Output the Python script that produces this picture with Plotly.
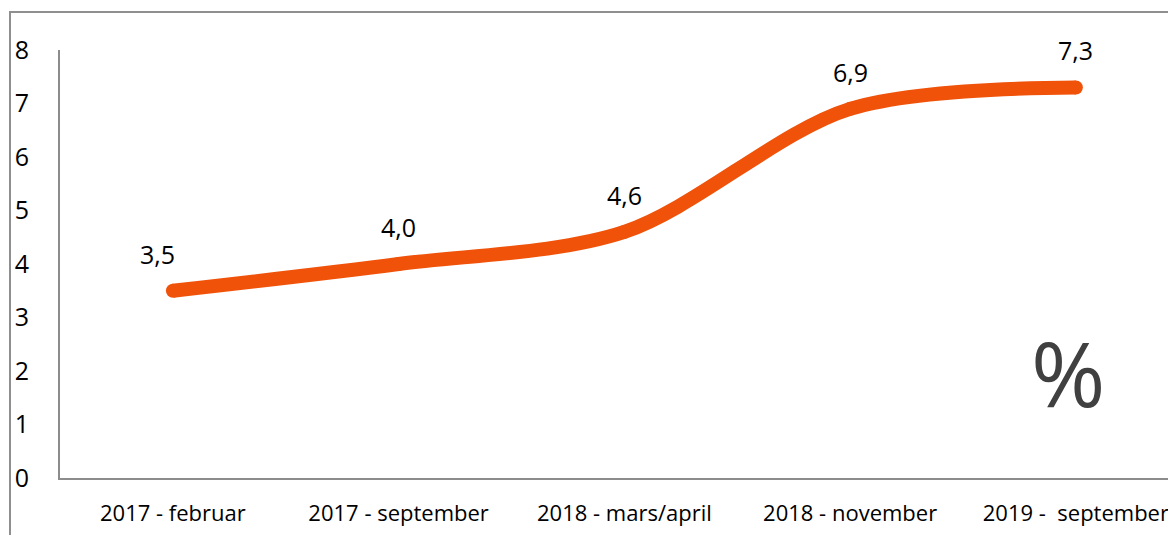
import plotly.graph_objects as go

categories = ["2017 - februar", "2017 - september", "2018 - mars/april", "2018 - november", "2019 -\u00a0\u00a0september"]
values = [3.5, 4.0, 4.6, 6.9, 7.3]
value_labels = ["3,5", "4,0", "4,6", "6,9", "7,3"]
label_xshift = [-15, 0, 0, 0, 0]
y_ticks = [0, 1, 2, 3, 4, 5, 6, 7, 8]

FONT = "'Open Sans', Lato, sans-serif"
ORANGE = "#F0520A"
GRAY = "#8C8C8C"

# page is rendered with an 8px body offset
OFF = 8
W, H = 1176, 543 - 2 * OFF
L = 60 - OFF
T = 50 - OFF
B = H - (478 - OFF)
R = 0
pw, ph = W - L - R, H - T - B
band = 225.75
x_end = -0.5 + pw / band


def px2x(px):
    return (px - OFF - L) / pw


def py2y(py):
    return (H - B - (py - OFF)) / ph


xs = list(range(len(categories)))

fig = go.Figure()
fig.add_trace(go.Scatter(
    x=xs,
    y=values,
    mode="lines+markers",
    line=dict(color=ORANGE, width=14, shape="spline", smoothing=0.9),
    marker=dict(color=ORANGE, size=14),
    cliponaxis=False,
    hoverinfo="skip",
))

annotations = [
    dict(x=x, y=v, xref="x", yref="y", text=t, showarrow=False,
         yshift=37, xshift=dx, xanchor="center", yanchor="middle",
         font=dict(family=FONT, size=25, color="#000000"))
    for x, v, t, dx in zip(xs, values, value_labels, label_xshift)
]
annotations.append(
    dict(text="%", xref="paper", yref="paper", x=px2x(1068), y=py2y(372),
         showarrow=False, font=dict(family=FONT, size=90, color="#404040"),
         xanchor="center", yanchor="middle"))

fig.update_layout(
    width=W, height=H,
    margin=dict(l=L, r=R, t=T, b=B),
    paper_bgcolor="white", plot_bgcolor="white",
    showlegend=False,
    font=dict(family=FONT, color="#000000"),
    xaxis=dict(
        range=[-0.5, x_end],
        tickmode="array",
        tickvals=xs,
        ticktext=categories,
        showgrid=False, zeroline=False,
        showline=True, linecolor=GRAY, linewidth=2,
        ticks="", ticklabelstandoff=15,
        tickfont=dict(family=FONT, size=22, color="#000000"),
    ),
    yaxis=dict(
        range=[0, 8],
        tickmode="array",
        tickvals=y_ticks,
        ticktext=[str(v) for v in y_ticks],
        showgrid=False, zeroline=False,
        showline=True, linecolor=GRAY, linewidth=2,
        ticks="", ticklabelstandoff=24,
        tickfont=dict(family=FONT, size=25, color="#000000"),
    ),
    shapes=[
        dict(type="rect", xref="paper", yref="paper",
             x0=px2x(10), x1=px2x(1250), y0=py2y(560), y1=py2y(12),
             line=dict(color="#8F8F8F", width=2), fillcolor="rgba(0,0,0,0)",
             layer="below"),
    ],
    annotations=annotations,
)

fig.write_html("out.html")
